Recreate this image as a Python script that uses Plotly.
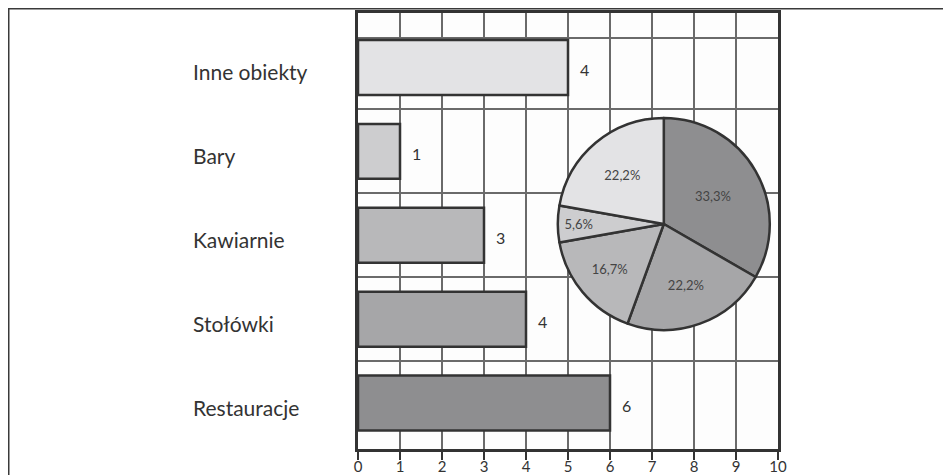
import plotly.graph_objects as go

# ---- data ----
categories = ["Restauracje", "Stołówki", "Kawiarnie", "Bary", "Inne obiekty"]
counts = [6, 4, 3, 1, 4]          # value labels / pie values
bar_lengths = [6, 4, 3, 1, 5]     # bar lengths as drawn in the original
x_ticks = list(range(0, 11))
colors = ["#8e8e90", "#a6a6a8", "#b8b8ba", "#cdcdcf", "#e3e3e5"]

OFF = 8  # page body margin
W, H = 951 - OFF, 475 - OFF
ML = 358 - OFF
MT = 13 - OFF
MR = W - (778 - OFF)
MB = H - (449 - OFF)
pw, ph = W - ML - MR, H - MT - MB

ypos = list(range(len(categories)))

fig = go.Figure()
fig.add_trace(go.Bar(
    y=ypos, x=bar_lengths, orientation="h", width=0.655,
    marker=dict(color=colors, line=dict(color="#333333", width=2.5)),
    hoverinfo="skip", showlegend=False,
))

# pie (page coordinates of centre, radius)
cx, cy, r = 663.8 - OFF, 224.0 - OFF, 106.0
fig.add_trace(go.Pie(
    values=counts, labels=categories, sort=False, direction="clockwise", rotation=0,
    marker=dict(colors=colors, line=dict(color="#333333", width=2.5)),
    texttemplate="%{percent:.1%}", textposition="inside", insidetextorientation="horizontal",
    textfont=dict(family="Lato", size=13, color="#444444"),
    domain=dict(x=[(cx - r - ML) / pw, (cx + r - ML) / pw],
                y=[(H - MB - cy - r) / ph, (H - MB - cy + r) / ph]),
    showlegend=False, hoverinfo="skip",
))

annotations = []
for yp, name in zip(ypos, categories):
    annotations.append(dict(
        x=(191 - OFF - ML) / pw, xref="paper", y=yp, yref="y", text=name,
        xanchor="left", yanchor="middle", showarrow=False, yshift=-4,
        font=dict(family="Lato", size=21, color="#333333")))
for yp, bl, c in zip(ypos, bar_lengths, counts):
    annotations.append(dict(
        x=bl, xref="x", y=yp, yref="y", text=str(c),
        xanchor="left", yanchor="middle", showarrow=False, xshift=10, yshift=-2,
        font=dict(family="Lato", size=16, color="#333333")))

fx0 = -ML / pw
fy_top = (H - MB) / ph
fig.update_layout(
    width=W, height=H,
    margin=dict(l=ML, r=MR, t=MT, b=MB, autoexpand=False),
    paper_bgcolor="#ffffff", plot_bgcolor="#fdfdfd",
    separators=", ",
    showlegend=False,
    annotations=annotations,
    xaxis=dict(range=[0, 10], tickvals=x_ticks, ticktext=[str(t) for t in x_ticks],
               automargin=False,
               showgrid=True, gridcolor="#6a6a6a", gridwidth=1.5,
               ticks="outside", ticklen=8, tickcolor="#333333", tickwidth=1.5,
               ticklabelstandoff=-6,
               showline=True, linecolor="#333333", linewidth=3, mirror=True,
               zeroline=False, tickfont=dict(family="Lato", size=15, color="#333333")),
    yaxis=dict(range=[-0.548, 4.65], tickvals=[0.5, 1.5, 2.5, 3.5, 4.352],
               automargin=False,
               showticklabels=False, ticks="",
               showgrid=True, gridcolor="#6a6a6a", gridwidth=1.5,
               showline=True, linecolor="#333333", linewidth=3, mirror=True,
               zeroline=False),
    shapes=[
        dict(type="line", xref="paper", yref="paper",
             x0=fx0 + 0.5 / pw, x1=(W + 5 - ML) / pw,
             y0=fy_top - 0.5 / ph, y1=fy_top - 0.5 / ph,
             line=dict(color="#3a3a3a", width=2)),
        dict(type="line", xref="paper", yref="paper",
             x0=fx0 + 0.5 / pw, x1=fx0 + 0.5 / pw,
             y0=fy_top, y1=-(MB + 10) / ph,
             line=dict(color="#3a3a3a", width=2)),
    ],
)

fig.write_html("out.html")
